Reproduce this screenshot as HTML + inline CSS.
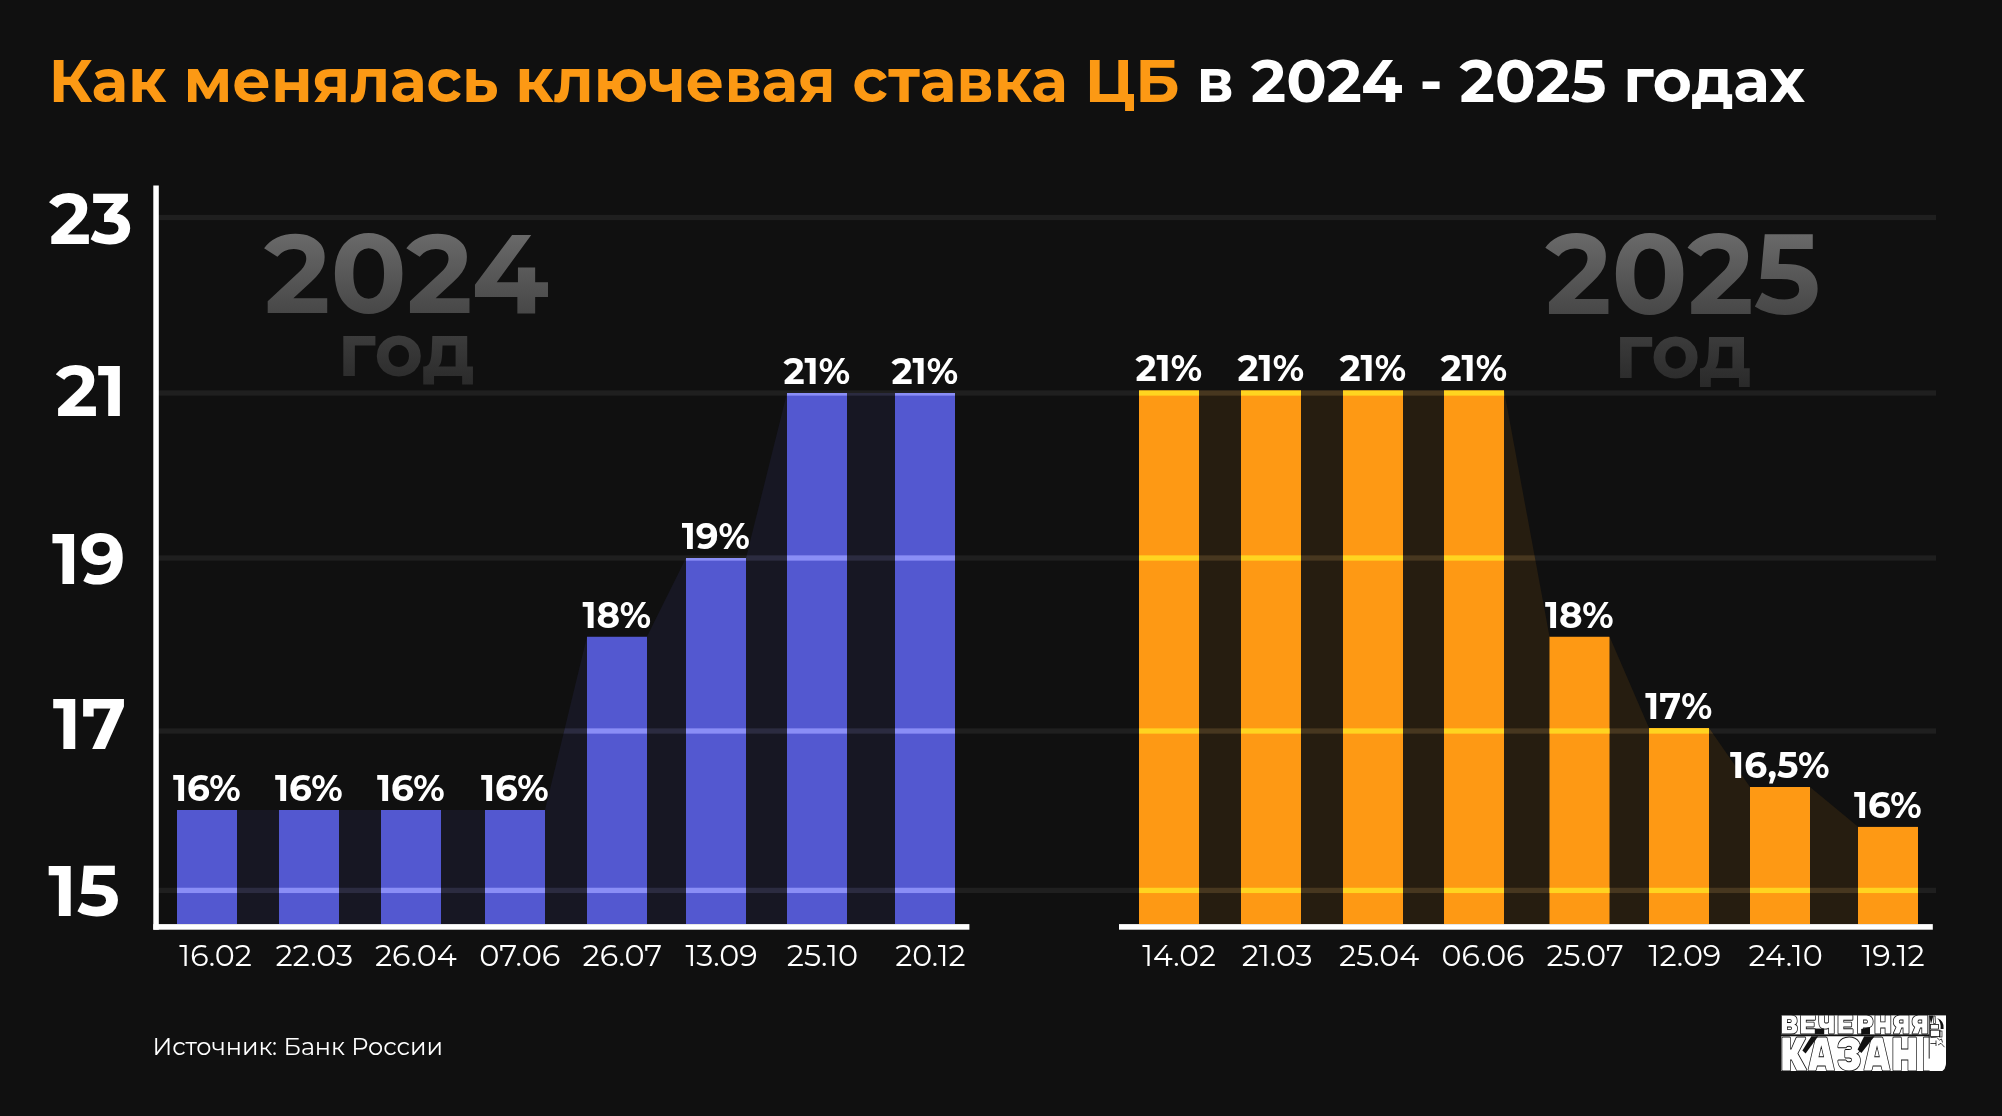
<!DOCTYPE html>
<html lang="ru"><head><meta charset="utf-8"><title>Как менялась ключевая ставка ЦБ в 2024 - 2025 годах</title>
<style>html,body{margin:0;padding:0;background:#101010;}svg{display:block;will-change:transform}</style></head>
<body><svg width="2002" height="1116" viewBox="0 0 2002 1116">
<defs><linearGradient id="wm" gradientUnits="userSpaceOnUse" x1="0" y1="232" x2="0" y2="314"><stop offset="0" stop-color="#6a6a6a"/><stop offset="1" stop-color="#474747"/></linearGradient><linearGradient id="wm2" gradientUnits="userSpaceOnUse" x1="0" y1="335" x2="0" y2="386"><stop offset="0" stop-color="#3c3c3c"/><stop offset="1" stop-color="#2a2a2a"/></linearGradient></defs>
<rect width="2002" height="1116" fill="#101010"/>
<rect x="158" y="214.85" width="1778" height="5.3" fill="#1f1f1f"/>
<rect x="158" y="390.35" width="1778" height="5.3" fill="#1f1f1f"/>
<rect x="158" y="555.35" width="1778" height="5.3" fill="#1f1f1f"/>
<rect x="158" y="728.35" width="1778" height="5.3" fill="#1f1f1f"/>
<rect x="158" y="887.75" width="1778" height="5.3" fill="#1f1f1f"/>
<polygon points="177.0,924.0 177.0,810.0 237.0,810.0 279.0,810.0 339.0,810.0 381.0,810.0 441.0,810.0 485.0,810.0 545.0,810.0 587.0,636.6 647.0,636.6 686.0,558.0 746.0,558.0 787.0,393.0 847.0,393.0 895.0,393.0 955.0,393.0 955.0,924.0" fill="#171723"/>
<clipPath id="c24"><polygon points="177.0,924.0 177.0,810.0 237.0,810.0 279.0,810.0 339.0,810.0 381.0,810.0 441.0,810.0 485.0,810.0 545.0,810.0 587.0,636.6 647.0,636.6 686.0,558.0 746.0,558.0 787.0,393.0 847.0,393.0 895.0,393.0 955.0,393.0 955.0,924.0"/></clipPath>
<g clip-path="url(#c24)">
<rect x="177" y="214.85" width="778" height="5.3" fill="#2b2b40"/>
<rect x="177" y="390.35" width="778" height="5.3" fill="#2b2b40"/>
<rect x="177" y="555.35" width="778" height="5.3" fill="#2b2b40"/>
<rect x="177" y="728.35" width="778" height="5.3" fill="#2b2b40"/>
<rect x="177" y="887.75" width="778" height="5.3" fill="#2b2b40"/>
<rect x="177" y="810" width="60" height="114.0" fill="#5358d0"/>
<rect x="177" y="887.75" width="60" height="5.30" fill="#8a8ef6"/>
<rect x="279" y="810" width="60" height="114.0" fill="#5358d0"/>
<rect x="279" y="887.75" width="60" height="5.30" fill="#8a8ef6"/>
<rect x="381" y="810" width="60" height="114.0" fill="#5358d0"/>
<rect x="381" y="887.75" width="60" height="5.30" fill="#8a8ef6"/>
<rect x="485" y="810" width="60" height="114.0" fill="#5358d0"/>
<rect x="485" y="887.75" width="60" height="5.30" fill="#8a8ef6"/>
<rect x="587" y="636.6" width="60" height="287.4" fill="#5358d0"/>
<rect x="587" y="728.35" width="60" height="5.30" fill="#8a8ef6"/>
<rect x="587" y="887.75" width="60" height="5.30" fill="#8a8ef6"/>
<rect x="686" y="558" width="60" height="366.0" fill="#5358d0"/>
<rect x="686" y="558.00" width="60" height="2.65" fill="#8a8ef6"/>
<rect x="686" y="728.35" width="60" height="5.30" fill="#8a8ef6"/>
<rect x="686" y="887.75" width="60" height="5.30" fill="#8a8ef6"/>
<rect x="787" y="393" width="60" height="531.0" fill="#5358d0"/>
<rect x="787" y="393.00" width="60" height="2.65" fill="#8a8ef6"/>
<rect x="787" y="555.35" width="60" height="5.30" fill="#8a8ef6"/>
<rect x="787" y="728.35" width="60" height="5.30" fill="#8a8ef6"/>
<rect x="787" y="887.75" width="60" height="5.30" fill="#8a8ef6"/>
<rect x="895" y="393" width="60" height="531.0" fill="#5358d0"/>
<rect x="895" y="393.00" width="60" height="2.65" fill="#8a8ef6"/>
<rect x="895" y="555.35" width="60" height="5.30" fill="#8a8ef6"/>
<rect x="895" y="728.35" width="60" height="5.30" fill="#8a8ef6"/>
<rect x="895" y="887.75" width="60" height="5.30" fill="#8a8ef6"/>
</g>
<polygon points="1139.0,924.0 1139.0,390.3 1199.0,390.3 1241.0,390.3 1301.0,390.3 1343.0,390.3 1403.0,390.3 1444.0,390.3 1504.0,390.3 1549.5,636.6 1609.5,636.6 1649.0,728.0 1709.0,728.0 1750.0,787.0 1810.0,787.0 1858.0,826.7 1918.0,826.7 1918.0,924.0" fill="#261d10"/>
<clipPath id="c25"><polygon points="1139.0,924.0 1139.0,390.3 1199.0,390.3 1241.0,390.3 1301.0,390.3 1343.0,390.3 1403.0,390.3 1444.0,390.3 1504.0,390.3 1549.5,636.6 1609.5,636.6 1649.0,728.0 1709.0,728.0 1750.0,787.0 1810.0,787.0 1858.0,826.7 1918.0,826.7 1918.0,924.0"/></clipPath>
<g clip-path="url(#c25)">
<rect x="1139" y="214.85" width="779" height="5.3" fill="#47371f"/>
<rect x="1139" y="390.35" width="779" height="5.3" fill="#47371f"/>
<rect x="1139" y="555.35" width="779" height="5.3" fill="#47371f"/>
<rect x="1139" y="728.35" width="779" height="5.3" fill="#47371f"/>
<rect x="1139" y="887.75" width="779" height="5.3" fill="#47371f"/>
<rect x="1139" y="390.3" width="60" height="533.7" fill="#fe9914"/>
<rect x="1139" y="390.35" width="60" height="5.30" fill="#ffd420"/>
<rect x="1139" y="555.35" width="60" height="5.30" fill="#ffd420"/>
<rect x="1139" y="728.35" width="60" height="5.30" fill="#ffd420"/>
<rect x="1139" y="887.75" width="60" height="5.30" fill="#ffd420"/>
<rect x="1241" y="390.3" width="60" height="533.7" fill="#fe9914"/>
<rect x="1241" y="390.35" width="60" height="5.30" fill="#ffd420"/>
<rect x="1241" y="555.35" width="60" height="5.30" fill="#ffd420"/>
<rect x="1241" y="728.35" width="60" height="5.30" fill="#ffd420"/>
<rect x="1241" y="887.75" width="60" height="5.30" fill="#ffd420"/>
<rect x="1343" y="390.3" width="60" height="533.7" fill="#fe9914"/>
<rect x="1343" y="390.35" width="60" height="5.30" fill="#ffd420"/>
<rect x="1343" y="555.35" width="60" height="5.30" fill="#ffd420"/>
<rect x="1343" y="728.35" width="60" height="5.30" fill="#ffd420"/>
<rect x="1343" y="887.75" width="60" height="5.30" fill="#ffd420"/>
<rect x="1444" y="390.3" width="60" height="533.7" fill="#fe9914"/>
<rect x="1444" y="390.35" width="60" height="5.30" fill="#ffd420"/>
<rect x="1444" y="555.35" width="60" height="5.30" fill="#ffd420"/>
<rect x="1444" y="728.35" width="60" height="5.30" fill="#ffd420"/>
<rect x="1444" y="887.75" width="60" height="5.30" fill="#ffd420"/>
<rect x="1549.5" y="636.6" width="60" height="287.4" fill="#fe9914"/>
<rect x="1549.5" y="728.35" width="60" height="5.30" fill="#ffd420"/>
<rect x="1549.5" y="887.75" width="60" height="5.30" fill="#ffd420"/>
<rect x="1649" y="728" width="60" height="196.0" fill="#fe9914"/>
<rect x="1649" y="728.35" width="60" height="5.30" fill="#ffd420"/>
<rect x="1649" y="887.75" width="60" height="5.30" fill="#ffd420"/>
<rect x="1750" y="787" width="60" height="137.0" fill="#fe9914"/>
<rect x="1750" y="887.75" width="60" height="5.30" fill="#ffd420"/>
<rect x="1858" y="826.7" width="60" height="97.3" fill="#fe9914"/>
<rect x="1858" y="887.75" width="60" height="5.30" fill="#ffd420"/>
</g>
<rect x="153.3" y="185.5" width="5.5" height="744.2" fill="#fff"/>
<rect x="153.3" y="924.1" width="816.1" height="5.6" fill="#fff"/>
<rect x="1119" y="924.1" width="813.8" height="5.6" fill="#fff"/>
<rect x="1781.4" y="1015.4" width="148" height="19" fill="#fff"/>
<path d="M1781.4 1036.3 H1946 V1059 Q1946 1071 1934 1071 H1781.4 Z" fill="#fff"/>
<text x="48.80" y="102.00" font-family="Montserrat, Liberation Sans, sans-serif" font-weight="700" font-size="60" fill="#fc9914" textLength="1130.68" lengthAdjust="spacingAndGlyphs" >Как менялась ключевая ставка ЦБ</text>
<text x="1196.61" y="102.00" font-family="Montserrat, Liberation Sans, sans-serif" font-weight="700" font-size="60" fill="#ffffff" textLength="608.41" lengthAdjust="spacingAndGlyphs" >в 2024 - 2025 годах</text>
<text x="49.00" y="243.80" font-family="Montserrat, Liberation Sans, sans-serif" font-weight="700" font-size="72" fill="#fff" textLength="83.80" lengthAdjust="spacingAndGlyphs" >23</text>
<text x="55.70" y="416.20" font-family="Montserrat, Liberation Sans, sans-serif" font-weight="700" font-size="72" fill="#fff" textLength="70.19" lengthAdjust="spacingAndGlyphs" >21</text>
<text x="52.00" y="583.50" font-family="Montserrat, Liberation Sans, sans-serif" font-weight="700" font-size="72" fill="#fff" textLength="73.45" lengthAdjust="spacingAndGlyphs" >19</text>
<text x="52.80" y="749.40" font-family="Montserrat, Liberation Sans, sans-serif" font-weight="700" font-size="72" fill="#fff" textLength="73.56" lengthAdjust="spacingAndGlyphs" >17</text>
<text x="48.30" y="916.30" font-family="Montserrat, Liberation Sans, sans-serif" font-weight="700" font-size="72" fill="#fff" textLength="71.55" lengthAdjust="spacingAndGlyphs" >15</text>
<text x="264.00" y="312.60" font-family="Montserrat, Liberation Sans, sans-serif" font-weight="700" font-size="111.6" fill="url(#wm)" textLength="285.10" lengthAdjust="spacingAndGlyphs" >2024</text>
<text x="337.87" y="375.80" font-family="Montserrat, Liberation Sans, sans-serif" font-weight="700" font-size="75.5" fill="url(#wm2)" textLength="136.84" lengthAdjust="spacingAndGlyphs" >год</text>
<text x="1545.30" y="313.50" font-family="Montserrat, Liberation Sans, sans-serif" font-weight="700" font-size="112.5" fill="url(#wm)" textLength="275.33" lengthAdjust="spacingAndGlyphs" >2025</text>
<text x="1614.49" y="377.70" font-family="Montserrat, Liberation Sans, sans-serif" font-weight="700" font-size="75.8" fill="url(#wm2)" textLength="137.03" lengthAdjust="spacingAndGlyphs" >год</text>
<text x="173.00" y="801.00" font-family="Montserrat, Liberation Sans, sans-serif" font-weight="700" font-size="36" fill="#fff" textLength="67.57" lengthAdjust="spacingAndGlyphs" >16%</text>
<text x="275.00" y="801.00" font-family="Montserrat, Liberation Sans, sans-serif" font-weight="700" font-size="36" fill="#fff" textLength="67.57" lengthAdjust="spacingAndGlyphs" >16%</text>
<text x="377.00" y="801.00" font-family="Montserrat, Liberation Sans, sans-serif" font-weight="700" font-size="36" fill="#fff" textLength="67.57" lengthAdjust="spacingAndGlyphs" >16%</text>
<text x="481.00" y="801.00" font-family="Montserrat, Liberation Sans, sans-serif" font-weight="700" font-size="36" fill="#fff" textLength="67.57" lengthAdjust="spacingAndGlyphs" >16%</text>
<text x="582.50" y="627.60" font-family="Montserrat, Liberation Sans, sans-serif" font-weight="700" font-size="36" fill="#fff" textLength="68.57" lengthAdjust="spacingAndGlyphs" >18%</text>
<text x="681.75" y="549.00" font-family="Montserrat, Liberation Sans, sans-serif" font-weight="700" font-size="36" fill="#fff" textLength="68.07" lengthAdjust="spacingAndGlyphs" >19%</text>
<text x="783.50" y="384.00" font-family="Montserrat, Liberation Sans, sans-serif" font-weight="700" font-size="36" fill="#fff" textLength="66.57" lengthAdjust="spacingAndGlyphs" >21%</text>
<text x="891.50" y="384.00" font-family="Montserrat, Liberation Sans, sans-serif" font-weight="700" font-size="36" fill="#fff" textLength="66.57" lengthAdjust="spacingAndGlyphs" >21%</text>
<text x="1135.50" y="381.30" font-family="Montserrat, Liberation Sans, sans-serif" font-weight="700" font-size="36" fill="#fff" textLength="66.57" lengthAdjust="spacingAndGlyphs" >21%</text>
<text x="1237.50" y="381.30" font-family="Montserrat, Liberation Sans, sans-serif" font-weight="700" font-size="36" fill="#fff" textLength="66.57" lengthAdjust="spacingAndGlyphs" >21%</text>
<text x="1339.50" y="381.30" font-family="Montserrat, Liberation Sans, sans-serif" font-weight="700" font-size="36" fill="#fff" textLength="66.57" lengthAdjust="spacingAndGlyphs" >21%</text>
<text x="1440.50" y="381.30" font-family="Montserrat, Liberation Sans, sans-serif" font-weight="700" font-size="36" fill="#fff" textLength="66.57" lengthAdjust="spacingAndGlyphs" >21%</text>
<text x="1545.00" y="627.60" font-family="Montserrat, Liberation Sans, sans-serif" font-weight="700" font-size="36" fill="#fff" textLength="68.57" lengthAdjust="spacingAndGlyphs" >18%</text>
<text x="1645.35" y="719.00" font-family="Montserrat, Liberation Sans, sans-serif" font-weight="700" font-size="36" fill="#fff" textLength="66.86" lengthAdjust="spacingAndGlyphs" >17%</text>
<text x="1730.10" y="778.00" font-family="Montserrat, Liberation Sans, sans-serif" font-weight="700" font-size="36" fill="#fff" textLength="99.37" lengthAdjust="spacingAndGlyphs" >16,5%</text>
<text x="1854.00" y="817.70" font-family="Montserrat, Liberation Sans, sans-serif" font-weight="700" font-size="36" fill="#fff" textLength="67.57" lengthAdjust="spacingAndGlyphs" >16%</text>
<text x="179.30" y="965.60" font-family="Montserrat, Liberation Sans, sans-serif" font-weight="400" font-size="30.3" fill="#fff" textLength="72.61" lengthAdjust="spacingAndGlyphs" >16.02</text>
<text x="275.40" y="965.60" font-family="Montserrat, Liberation Sans, sans-serif" font-weight="400" font-size="30.3" fill="#fff" textLength="77.69" lengthAdjust="spacingAndGlyphs" >22.03</text>
<text x="375.00" y="965.60" font-family="Montserrat, Liberation Sans, sans-serif" font-weight="400" font-size="30.3" fill="#fff" textLength="81.83" lengthAdjust="spacingAndGlyphs" >26.04</text>
<text x="479.29" y="965.60" font-family="Montserrat, Liberation Sans, sans-serif" font-weight="400" font-size="30.3" fill="#fff" textLength="81.16" lengthAdjust="spacingAndGlyphs" >07.06</text>
<text x="582.60" y="965.60" font-family="Montserrat, Liberation Sans, sans-serif" font-weight="400" font-size="30.3" fill="#fff" textLength="79.54" lengthAdjust="spacingAndGlyphs" >26.07</text>
<text x="685.40" y="965.60" font-family="Montserrat, Liberation Sans, sans-serif" font-weight="400" font-size="30.3" fill="#fff" textLength="72.35" lengthAdjust="spacingAndGlyphs" >13.09</text>
<text x="786.70" y="965.60" font-family="Montserrat, Liberation Sans, sans-serif" font-weight="400" font-size="30.3" fill="#fff" textLength="71.36" lengthAdjust="spacingAndGlyphs" >25.10</text>
<text x="895.20" y="965.60" font-family="Montserrat, Liberation Sans, sans-serif" font-weight="400" font-size="30.3" fill="#fff" textLength="70.41" lengthAdjust="spacingAndGlyphs" >20.12</text>
<text x="1142.20" y="965.60" font-family="Montserrat, Liberation Sans, sans-serif" font-weight="400" font-size="30.3" fill="#fff" textLength="73.60" lengthAdjust="spacingAndGlyphs" >14.02</text>
<text x="1241.80" y="965.60" font-family="Montserrat, Liberation Sans, sans-serif" font-weight="400" font-size="30.3" fill="#fff" textLength="70.78" lengthAdjust="spacingAndGlyphs" >21.03</text>
<text x="1339.10" y="965.60" font-family="Montserrat, Liberation Sans, sans-serif" font-weight="400" font-size="30.3" fill="#fff" textLength="80.03" lengthAdjust="spacingAndGlyphs" >25.04</text>
<text x="1441.61" y="965.60" font-family="Montserrat, Liberation Sans, sans-serif" font-weight="400" font-size="30.3" fill="#fff" textLength="82.84" lengthAdjust="spacingAndGlyphs" >06.06</text>
<text x="1546.40" y="965.60" font-family="Montserrat, Liberation Sans, sans-serif" font-weight="400" font-size="30.3" fill="#fff" textLength="77.13" lengthAdjust="spacingAndGlyphs" >25.07</text>
<text x="1648.50" y="965.60" font-family="Montserrat, Liberation Sans, sans-serif" font-weight="400" font-size="30.3" fill="#fff" textLength="72.74" lengthAdjust="spacingAndGlyphs" >12.09</text>
<text x="1748.60" y="965.60" font-family="Montserrat, Liberation Sans, sans-serif" font-weight="400" font-size="30.3" fill="#fff" textLength="74.05" lengthAdjust="spacingAndGlyphs" >24.10</text>
<text x="1861.40" y="965.60" font-family="Montserrat, Liberation Sans, sans-serif" font-weight="400" font-size="30.3" fill="#fff" textLength="63.21" lengthAdjust="spacingAndGlyphs" >19.12</text>
<text x="152.42" y="1054.60" font-family="Montserrat, Liberation Sans, sans-serif" font-weight="400" font-size="24.2" fill="#fff" textLength="290.51" lengthAdjust="spacingAndGlyphs" >Источник: Банк России</text>
<text x="1779.73" y="1034.40" font-family="Rubik Mono One, Liberation Sans, sans-serif" font-weight="400" font-size="26.5" fill="#ffffff" textLength="150.14" lengthAdjust="spacingAndGlyphs" stroke="#111" stroke-width="0.9">ВЕЧЕРНЯЯ</text>
<text x="1779.35" y="1071.00" font-family="Rubik Mono One, Liberation Sans, sans-serif" font-weight="400" font-size="48" fill="#ffffff" textLength="167.20" lengthAdjust="spacingAndGlyphs" stroke="#111" stroke-width="1">КАЗАНЬ</text>
<g>
<path d="M1811.4 1036.3 L1818.2 1036.3 L1805.6 1053.6 L1802.4 1050.6 Z" fill="#111"/>
<path d="M1864.2 1036.3 L1874.6 1036.3 L1861.4 1053.0 L1857.6 1049.6 Z" fill="#111"/>
<path d="M1814.8 1028.6 L1824.2 1028.6 L1824.2 1034.4 L1814.8 1034.4 Z" fill="#111"/>
<path d="M1861.2 1029 L1870 1027 L1870 1034.4 L1861.2 1034.4 Z" fill="#111"/>
<rect x="1929.6" y="1015.4" width="16.4" height="36" fill="#fff"/>
<rect x="1929.6" y="1040" width="16.4" height="31" rx="0" fill="#fff"/>
<path d="M1929.2 1015.4 L1933.5 1015.4 L1931 1024 Z" fill="#111"/>
<path d="M1937.2 1018 Q1944.5 1021 1943.6 1029 L1940.6 1029 Q1941.2 1022 1937.2 1018 Z" fill="#111"/>
<path d="M1933.8 1016 L1935.2 1016 L1935.6 1023.5 L1933.4 1023.5 Z" fill="none" stroke="#111" stroke-width="0.7"/>
<rect x="1930.6" y="1024.5" width="7.8" height="4.6" fill="none" stroke="#111" stroke-width="0.8"/>
<rect x="1930.4" y="1030.2" width="9.6" height="6.2" fill="none" stroke="#111" stroke-width="0.8"/>
<rect x="1939.6" y="1031" width="2.4" height="6" fill="none" stroke="#111" stroke-width="0.7"/>
<path d="M1930.4 1037.6 L1936.5 1037.2 L1939.5 1040 L1941.5 1039 L1942.5 1042.5" fill="none" stroke="#111" stroke-width="0.8"/>
<path d="M1930.4 1043.5 L1936 1043.5 M1936 1040.5 L1936 1046 M1938 1045 L1941 1043.3 L1944.5 1047.2" fill="none" stroke="#111" stroke-width="0.8"/>
<path d="M1929.2 1016 L1929.2 1058.6" stroke="#111" stroke-width="0.9"/>
<path d="M1946.2 1047 L1946.2 1071.5 L1940 1071.5 Q1946.2 1071 1946.2 1061 Z" fill="#111"/>
</g>
</svg></body></html>
